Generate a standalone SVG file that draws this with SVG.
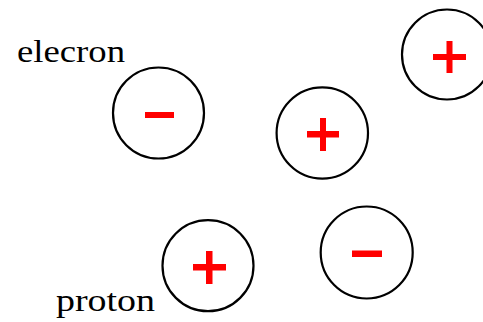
<svg xmlns="http://www.w3.org/2000/svg" width="483" height="322" viewBox="0 0 483 322">
<style>
.ring{fill:none;stroke:#000;stroke-width:2.2}
.sign{fill:#ff0000}
.lbl{font-family:"Liberation Serif","DejaVu Serif",serif;font-size:31px;fill:#000}
</style>
<rect width="483" height="322" fill="#fff"/>
<g id="label-electron"><text class="lbl" x="17" y="62" textLength="108" lengthAdjust="spacingAndGlyphs">elecron</text></g>
<g id="label-proton"><text class="lbl" x="56" y="311" textLength="99" lengthAdjust="spacingAndGlyphs">proton</text></g>
<g id="electron1">
<circle class="ring" cx="158.5" cy="113" r="45.5"/>
<rect class="sign" x="145" y="112" width="29" height="6"/>
</g>
<g id="proton1">
<circle class="ring" cx="447" cy="54.5" r="45"/>
<rect class="sign" x="433" y="54" width="33" height="6"/>
<rect class="sign" x="446.5" y="41" width="6" height="32"/>
</g>
<g id="proton2">
<circle class="ring" cx="322.3" cy="133" r="45.7"/>
<rect class="sign" x="307" y="131" width="32" height="6.5"/>
<rect class="sign" x="320" y="118" width="6" height="33"/>
</g>
<g id="proton3">
<circle class="ring" cx="208" cy="265.7" r="45.5"/>
<rect class="sign" x="193" y="264" width="33" height="6.5"/>
<rect class="sign" x="206" y="251" width="6.5" height="33"/>
</g>
<g id="electron2">
<circle class="ring" cx="366.7" cy="252.5" r="46"/>
<rect class="sign" x="352" y="250.5" width="30" height="6.5"/>
</g>
<g id="connectors"></g>
</svg>
